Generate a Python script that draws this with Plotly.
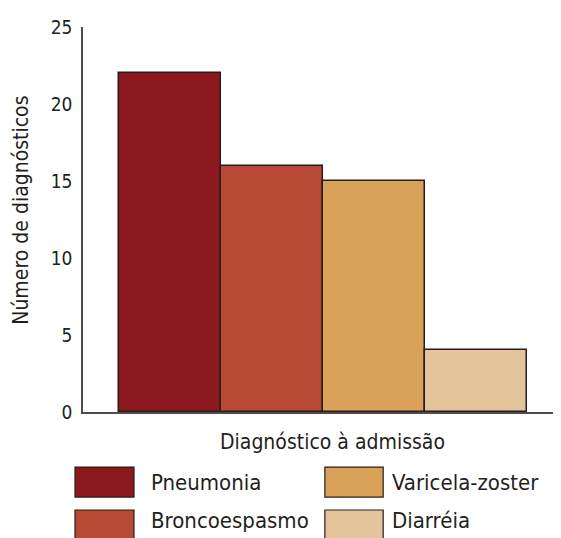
import plotly.graph_objects as go

categories = ["Pneumonia", "Broncoespasmo", "Varicela-zoster", "Diarréia"]
values = [22, 16, 15, 4]
colors = ["#8A181D", "#B84A35", "#D9A258", "#E4C49A"]
y_ticks = [0, 5, 10, 15, 20, 25]

FONT = "DejaVu Sans Condensed, Roboto, sans-serif"

fig = go.Figure()
fig.add_trace(go.Bar(
    x=categories, y=values,
    marker=dict(color=colors, line=dict(color="#2a1c1c", width=1.5)),
    width=1.0, showlegend=False, hoverinfo="x+y",
))

# Custom legend (two columns, large swatches)
legend_pos = [
    (-0.0167, 0.1067, -0.143, -0.221, 0.138, -0.182),
    (-0.0167, 0.1067, -0.2545, -0.332, 0.138, -0.283),
    (0.506, 0.628, -0.143, -0.221, 0.642, -0.182),
    (0.506, 0.628, -0.2545, -0.332, 0.642, -0.283),
]
shapes = []
annotations = []
for (x0, x1, y0, y1, tx, ty), name, col in zip(legend_pos, categories, colors):
    shapes.append(dict(type="rect", xref="paper", yref="paper", x0=x0, x1=x1, y0=y1, y1=y0,
                       fillcolor=col, line=dict(color="#2a1c1c", width=1.2)))
    annotations.append(dict(xref="paper", yref="paper", x=tx, y=ty, text=name, showarrow=False,
                            xanchor="left", yanchor="middle", font=dict(size=22, color="#231f20", family=FONT)))

annotations.append(dict(xref="paper", yref="paper", x=0.523, y=-0.078, text="Diagnóstico à admissão",
                        showarrow=False, xanchor="center", yanchor="middle",
                        font=dict(size=21, color="#231f20", family=FONT)))
annotations.append(dict(xref="paper", yref="paper", x=-0.13, y=0.525, text="Número de diagnósticos",
                        showarrow=False, xanchor="center", yanchor="middle", textangle=-90,
                        font=dict(size=21, color="#231f20", family=FONT)))

fig.update_layout(
    width=553, height=530,
    margin=dict(l=75, r=0, t=19, b=126),
    paper_bgcolor="white", plot_bgcolor="white",
    bargap=0,
    shapes=shapes, annotations=annotations,
    font=dict(family=FONT, color="#231f20"),
    xaxis=dict(range=[-0.853, 3.83], showticklabels=False, showgrid=False, zeroline=False,
               showline=True, linecolor="#4d4d4d", linewidth=1.5, ticks=""),
    yaxis=dict(range=[0, 25], tickvals=y_ticks, showgrid=False, zeroline=False,
               showline=True, linecolor="#4d4d4d", linewidth=1.5,
               ticks="outside", ticklen=5, tickcolor="rgba(0,0,0,0)",
               tickfont=dict(size=19, family=FONT, color="#231f20")),
)

fig.write_html("out.html")
